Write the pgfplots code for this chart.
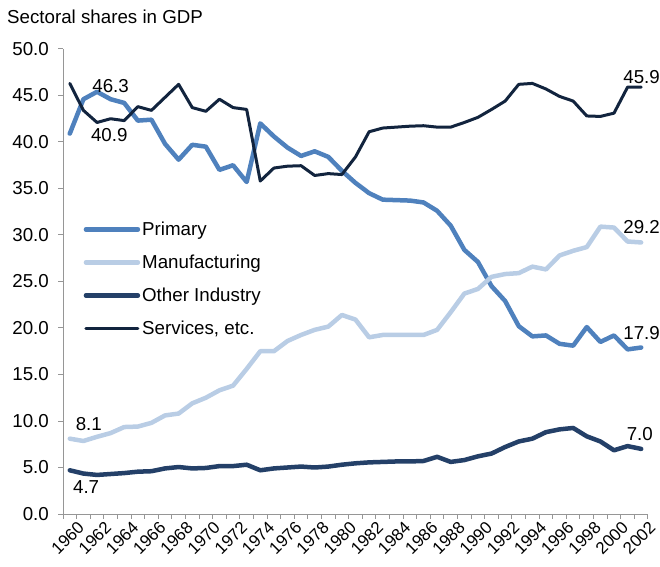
\documentclass[border=0pt]{standalone}
\usepackage{pgfplots}
\pgfplotsset{compat=1.18}
\usepackage{fontspec}
\setmainfont{Liberation Sans}
\definecolor{cPrim}{RGB}{79,129,189}
\definecolor{cManu}{RGB}{185,205,229}
\definecolor{cOth}{RGB}{36,64,104}
\definecolor{cServ}{RGB}{18,36,62}
\definecolor{cAxis}{RGB}{150,150,150}
\newcommand{\fs}{\fontsize{18.8}{21}\selectfont}
\newcommand{\fx}{\fontsize{17}{19}\selectfont}
\begin{document}
\begin{tikzpicture}
\begin{axis}[
  width=585bp, height=465bp, scale only axis,
  xmin=1959.5, xmax=2002.5, ymin=0, ymax=50,
  axis lines*=left,
  axis line style={cAxis, line width=1pt},
  every outer x axis line/.append style={-},
  every outer y axis line/.append style={-},
  ytick={0,5,...,50},
  xtick={1960,1962,...,2002},
  minor xtick={1959.5,1960.5,...,2002.5},
  tick align=outside,
  major x tick style={draw=none},
  minor x tick style={cAxis, line width=1pt},
  minor tick length=5bp,
  major tick length=5bp,
  y tick style={cAxis, line width=1pt},
  yticklabel style={font=\fs},
  xticklabel style={font=\fx},
  /pgf/number format/assume math mode=true,
  xticklabel style={/pgf/number format/1000 sep={}, rotate=45, anchor=east, inner sep=0bp, yshift=-12bp, xshift=4bp},
  yticklabel style={/pgf/number format/fixed, /pgf/number format/fixed zerofill, /pgf/number format/precision=1, xshift=-9bp, inner sep=0bp},
  title={Sectoral shares in GDP},
  title style={at={(rel axis cs:0,1)}, anchor=base west, xshift=-56bp, yshift=20bp, font=\fs, inner sep=0pt},
  legend style={at={(rel axis cs:0.035,0.633)}, anchor=north west, draw=none, fill=none, font=\fs, row sep=14bp, inner sep=0bp},
  legend cell align=left,
  legend image code/.code={\draw[#1] (0bp,0bp) -- (52bp,0bp);},
  every axis plot/.append style={line join=round, line cap=round},
  clip=false,
]
\addplot[cPrim, line width=4.5bp] coordinates {
(1960,40.9)(1961,44.6)(1962,45.4)(1963,44.6)(1964,44.2)(1965,42.3)(1966,42.4)(1967,39.8)(1968,38.1)(1969,39.7)
(1970,39.5)(1971,37.0)(1972,37.5)(1973,35.7)(1974,42.0)(1975,40.6)(1976,39.4)(1977,38.5)(1978,39.0)(1979,38.4)
(1980,36.9)(1981,35.6)(1982,34.5)(1983,33.8)(1984,33.75)(1985,33.7)(1986,33.5)(1987,32.6)(1988,31.0)(1989,28.4)
(1990,27.1)(1991,24.5)(1992,22.9)(1993,20.2)(1994,19.1)(1995,19.2)(1996,18.3)(1997,18.1)(1998,20.1)(1999,18.5)
(2000,19.2)(2001,17.7)(2002,17.9)};
\addlegendentry{Primary}
\addplot[cManu, line width=4.5bp] coordinates {
(1960,8.1)(1961,7.85)(1962,8.3)(1963,8.7)(1964,9.35)(1965,9.4)(1966,9.8)(1967,10.6)(1968,10.8)(1969,11.9)
(1970,12.5)(1971,13.3)(1972,13.8)(1973,15.6)(1974,17.5)(1975,17.5)(1976,18.6)(1977,19.25)(1978,19.8)(1979,20.15)
(1980,21.4)(1981,20.9)(1982,19.0)(1983,19.25)(1984,19.25)(1985,19.25)(1986,19.25)(1987,19.8)(1988,21.7)(1989,23.7)
(1990,24.2)(1991,25.5)(1992,25.8)(1993,25.9)(1994,26.6)(1995,26.3)(1996,27.8)(1997,28.3)(1998,28.7)(1999,30.9)
(2000,30.8)(2001,29.3)(2002,29.2)};
\addlegendentry{Manufacturing}
\addplot[cOth, line width=4.5bp] coordinates {
(1960,4.7)(1961,4.35)(1962,4.2)(1963,4.3)(1964,4.4)(1965,4.55)(1966,4.6)(1967,4.9)(1968,5.05)(1969,4.9)
(1970,4.95)(1971,5.15)(1972,5.15)(1973,5.3)(1974,4.7)(1975,4.9)(1976,5.0)(1977,5.1)(1978,5.0)(1979,5.1)
(1980,5.3)(1981,5.45)(1982,5.55)(1983,5.6)(1984,5.65)(1985,5.65)(1986,5.7)(1987,6.15)(1988,5.6)(1989,5.8)
(1990,6.2)(1991,6.5)(1992,7.2)(1993,7.8)(1994,8.1)(1995,8.8)(1996,9.1)(1997,9.25)(1998,8.35)(1999,7.8)
(2000,6.85)(2001,7.3)(2002,7.0)};
\addlegendentry{Other Industry}
\addplot[cServ, line width=3bp] coordinates {
(1960,46.3)(1961,43.4)(1962,42.1)(1963,42.5)(1964,42.3)(1965,43.8)(1966,43.4)(1967,44.8)(1968,46.2)(1969,43.7)
(1970,43.3)(1971,44.6)(1972,43.7)(1973,43.5)(1974,35.8)(1975,37.2)(1976,37.4)(1977,37.45)(1978,36.4)(1979,36.6)
(1980,36.5)(1981,38.4)(1982,41.1)(1983,41.5)(1984,41.6)(1985,41.7)(1986,41.75)(1987,41.6)(1988,41.6)(1989,42.1)
(1990,42.65)(1991,43.5)(1992,44.4)(1993,46.2)(1994,46.3)(1995,45.7)(1996,44.9)(1997,44.4)(1998,42.8)(1999,42.75)
(2000,43.1)(2001,45.9)(2002,45.9)};
\addlegendentry{Services, etc.}
\node[font=\fs, inner sep=0pt] at (axis cs:1963,46.0) {46.3};
\node[font=\fs, inner sep=0pt] at (axis cs:1962.9,40.8) {40.9};
\node[font=\fs, inner sep=0pt] at (axis cs:1961.4,9.65) {8.1};
\node[font=\fs, inner sep=0pt] at (axis cs:1961.2,2.95) {4.7};
\node[font=\fs, inner sep=0pt, anchor=east] at ([xshift=12bp]axis cs:2002.5,46.95) {45.9};
\node[font=\fs, inner sep=0pt, anchor=east] at ([xshift=12bp]axis cs:2002.5,30.9) {29.2};
\node[font=\fs, inner sep=0pt, anchor=east] at ([xshift=12bp]axis cs:2002.5,19.45) {17.9};
\node[font=\fs, inner sep=0pt] at (axis cs:2001.9,8.6) {7.0};
\coordinate (BL) at (rel axis cs:0,0);
\end{axis}
\pgfresetboundingbox
\path (BL) ++(-63bp,-53bp) rectangle ++(660bp,567bp);
\end{tikzpicture}
\end{document}
